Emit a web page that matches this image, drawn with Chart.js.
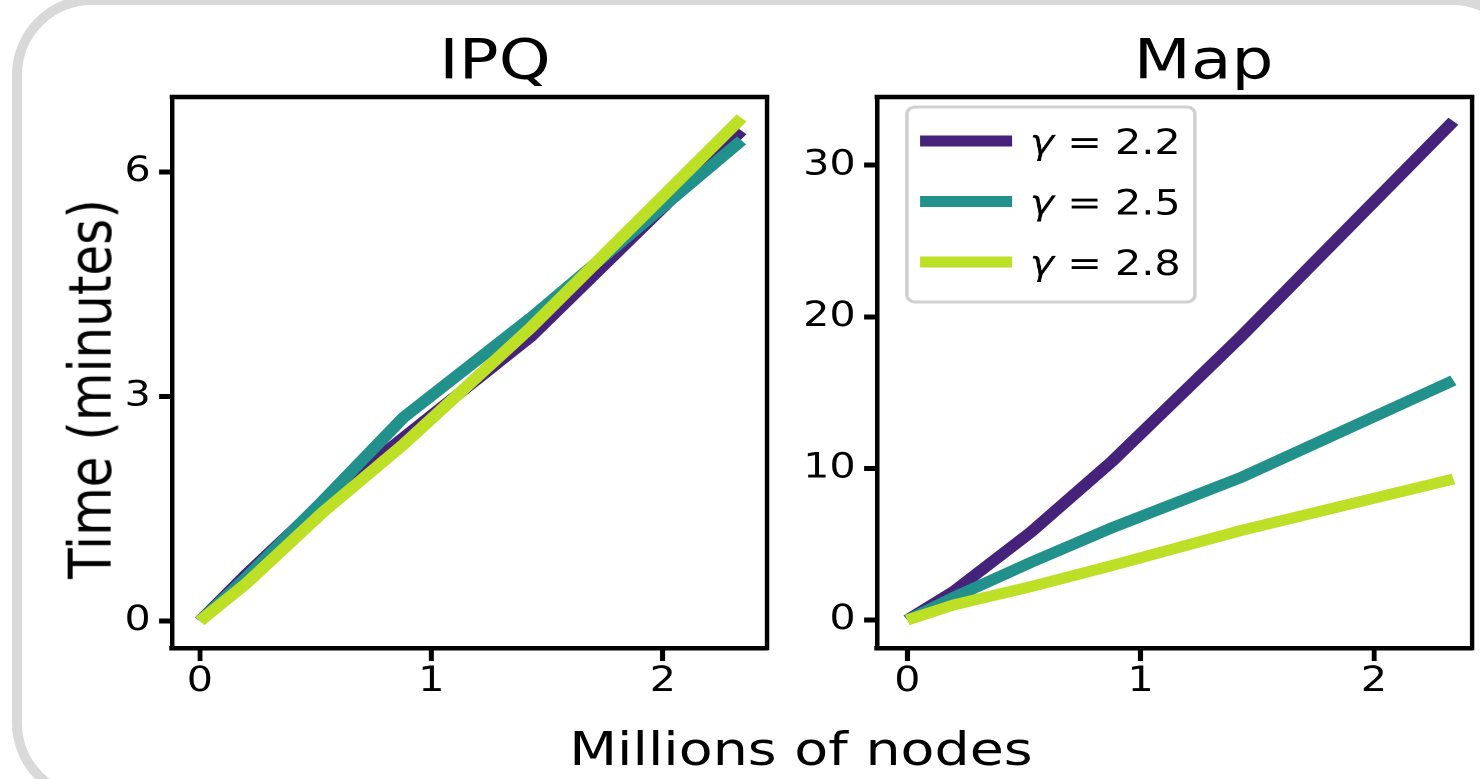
<!DOCTYPE html>
<html>
<head>
<meta charset="utf-8">
<script src="https://cdn.jsdelivr.net/npm/chart.js@4/dist/chart.umd.min.js"></script>
<style>
html, body { margin:0; padding:0; background:#fff; width:1480px; height:779px; overflow:hidden; }
#frame { position:absolute; left:12px; top:-5px; width:1500px; height:788px; border:10px solid #d9d9d9; border-radius:80px; }
#wrap { position:absolute; left:0; top:0; width:1254px; height:779px; transform:scaleX(1.18); transform-origin:0 0; }
.lbl { position:absolute; font-family:"DejaVu Sans"; color:#000; white-space:nowrap; line-height:1; }
canvas { position:absolute; top:0; }
</style>
</head>
<body>
<div id="frame"></div>
<div id="wrap">
  <canvas id="ipq" style="left:0px"></canvas>
  <canvas id="map" style="left:670px"></canvas>
  <div class="lbl" style="left:419.5px; top:31px; font-size:56px; transform:translateX(-50%)">IPQ</div>
  <div class="lbl" style="left:1020px; top:31px; font-size:56px; transform:translateX(-50%)">Map</div>
  <div class="lbl" style="left:76.5px; top:389px; font-size:50px; transform:translate(-50%,-50%) rotate(-90deg)">Time (minutes)</div>
  <div class="lbl" style="left:678.8px; top:725px; font-size:47px; transform:translateX(-50%)">Millions of nodes</div>
</div>
<script>
// millions of nodes
const xNodes = [0, 0.2, 0.53, 0.88, 1.43, 2.34];
const gammaLabels = ['2.2', '2.5', '2.8'];
const colors = ['#46237b', '#22918c', '#bddf26'];

// IPQ time, minutes
const ipq22 = [0, 0.62, 1.58, 2.45, 3.8, 6.55];
const ipq25 = [0, 0.58, 1.6, 2.72, 4.05, 6.42];
const ipq28 = [0, 0.5, 1.45, 2.36, 3.92, 6.72];

// Map time, minutes
const map22 = [0, 1.9, 5.8, 10.5, 18.7, 32.9];
const map25 = [0, 1.5, 3.8, 6.1, 9.4, 15.8];
const map28 = [0, 1.0, 2.2, 3.6, 5.9, 9.3];

const xTicks = [0, 1, 2];
const ipqYTicks = [0, 3, 6];
const mapYTicks = [0, 10, 20, 30];

const FONT = 'DejaVu Sans';
const CANVAS_H = 779;

function series(vals, i){
	return {
		label: gammaLabels[i],
		data: xNodes.map((x, k) => ({x: x, y: vals[k]})),
		borderColor: colors[i],
		borderWidth: 11,
		pointRadius: 0,
		tension: 0,
		fill: false,
		order: 2 - i // green on top, like matplotlib
	};
}

// top + right spines
const boxPlugin = {
	id: 'box',
	afterDraw(chart){
		const ctx = chart.ctx, a = chart.chartArea;
		ctx.save();
		ctx.strokeStyle = '#000';
		ctx.lineWidth = 4.5;
		ctx.beginPath(); ctx.moveTo(a.left - 2, a.top); ctx.lineTo(a.right + 2, a.top); ctx.stroke();
		ctx.lineWidth = 3.8;
		ctx.beginPath(); ctx.moveTo(a.right, a.top); ctx.lineTo(a.right, a.bottom + 2.2); ctx.stroke();
		ctx.restore();
	}
};

const legendPlugin = {
	id: 'gammaLegend',
	afterDraw(chart){
		const ctx = chart.ctx, a = chart.chartArea;
		const x = a.left + 25.4, y = a.top + 10, w = 244, h = 195;
		ctx.save();
		ctx.beginPath();
		ctx.roundRect(x, y, w, h, 7);
		ctx.fillStyle = 'rgba(255,255,255,0.85)';
		ctx.fill();
		ctx.lineWidth = 3;
		ctx.strokeStyle = '#d0d0d0';
		ctx.stroke();
		chart.data.datasets.forEach(function(ds, i){
			const ry = y + 34 + i * 60.5;
			ctx.beginPath();
			ctx.moveTo(x + 11, ry); ctx.lineTo(x + 89, ry);
			ctx.lineWidth = 11; ctx.lineCap = 'butt';
			ctx.strokeStyle = ds.borderColor;
			ctx.stroke();
			ctx.fillStyle = '#000';
			ctx.textBaseline = 'alphabetic';
			ctx.font = 'italic 35px "' + FONT + '"';
			ctx.fillText('\u03b3', x + 104, ry + 13);
			const gw = ctx.measureText('\u03b3').width;
			ctx.font = '35px "' + FONT + '"';
			ctx.fillText(' = ' + ds.label, x + 104 + gw, ry + 13);
		});
		ctx.restore();
	}
};

function makeChart(id, width, datasets, xr, yr, yTicks, pad, yWidth, extra){
	const canvas = document.getElementById(id);
	canvas.width = width;
	canvas.height = CANVAS_H;
	const tickFont = {family: FONT, size: 35};
	return new Chart(canvas, {
		type: 'line',
		data: {datasets: datasets},
		options: {
			responsive: false,
			animation: false,
			devicePixelRatio: 2,
			layout: {padding: pad},
			plugins: {legend: {display: false}, tooltip: {enabled: false}, title: {display: false}},
			scales: {
				x: {
					type: 'linear', min: xr[0], max: xr[1],
					afterBuildTicks: s => { s.ticks = xTicks.map(v => ({value: v})); },
					afterFit: s => { s.height = CANVAS_H - 648; },
					grid: {drawOnChartArea: false, drawTicks: true, tickLength: 13, tickWidth: 4.2, tickColor: '#000'},
					border: {display: true, width: 4.5, color: '#000'},
					ticks: {font: tickFont, color: '#000', padding: 0, maxRotation: 0}
				},
				y: {
					type: 'linear', min: yr[0], max: yr[1],
					afterBuildTicks: s => { s.ticks = yTicks.map(v => ({value: v})); },
					afterFit: s => { s.width = yWidth; },
					grid: {drawOnChartArea: false, drawTicks: true, tickLength: 11, tickWidth: 5, tickColor: '#000'},
					border: {display: true, width: 3.8, color: '#000'},
					ticks: {font: tickFont, color: '#000', padding: 7}
				}
			}
		},
		plugins: extra
	});
}

makeChart('ipq', 670,
	[series(ipq22, 0), series(ipq25, 1), series(ipq28, 2)],
	[-0.12, 2.45], [-0.36, 7.0], ipqYTicks,
	{left: 60, right: 20, top: 97, bottom: 0}, 85.8, [boxPlugin]);

makeChart('map', 584,
	[series(map22, 0), series(map25, 1), series(map28, 2)],
	[-0.13, 2.42], [-1.85, 34.5], mapYTicks,
	{left: 0, right: 6.5, top: 97, bottom: 0}, 73.2, [boxPlugin, legendPlugin]);
</script>
</body>
</html>
